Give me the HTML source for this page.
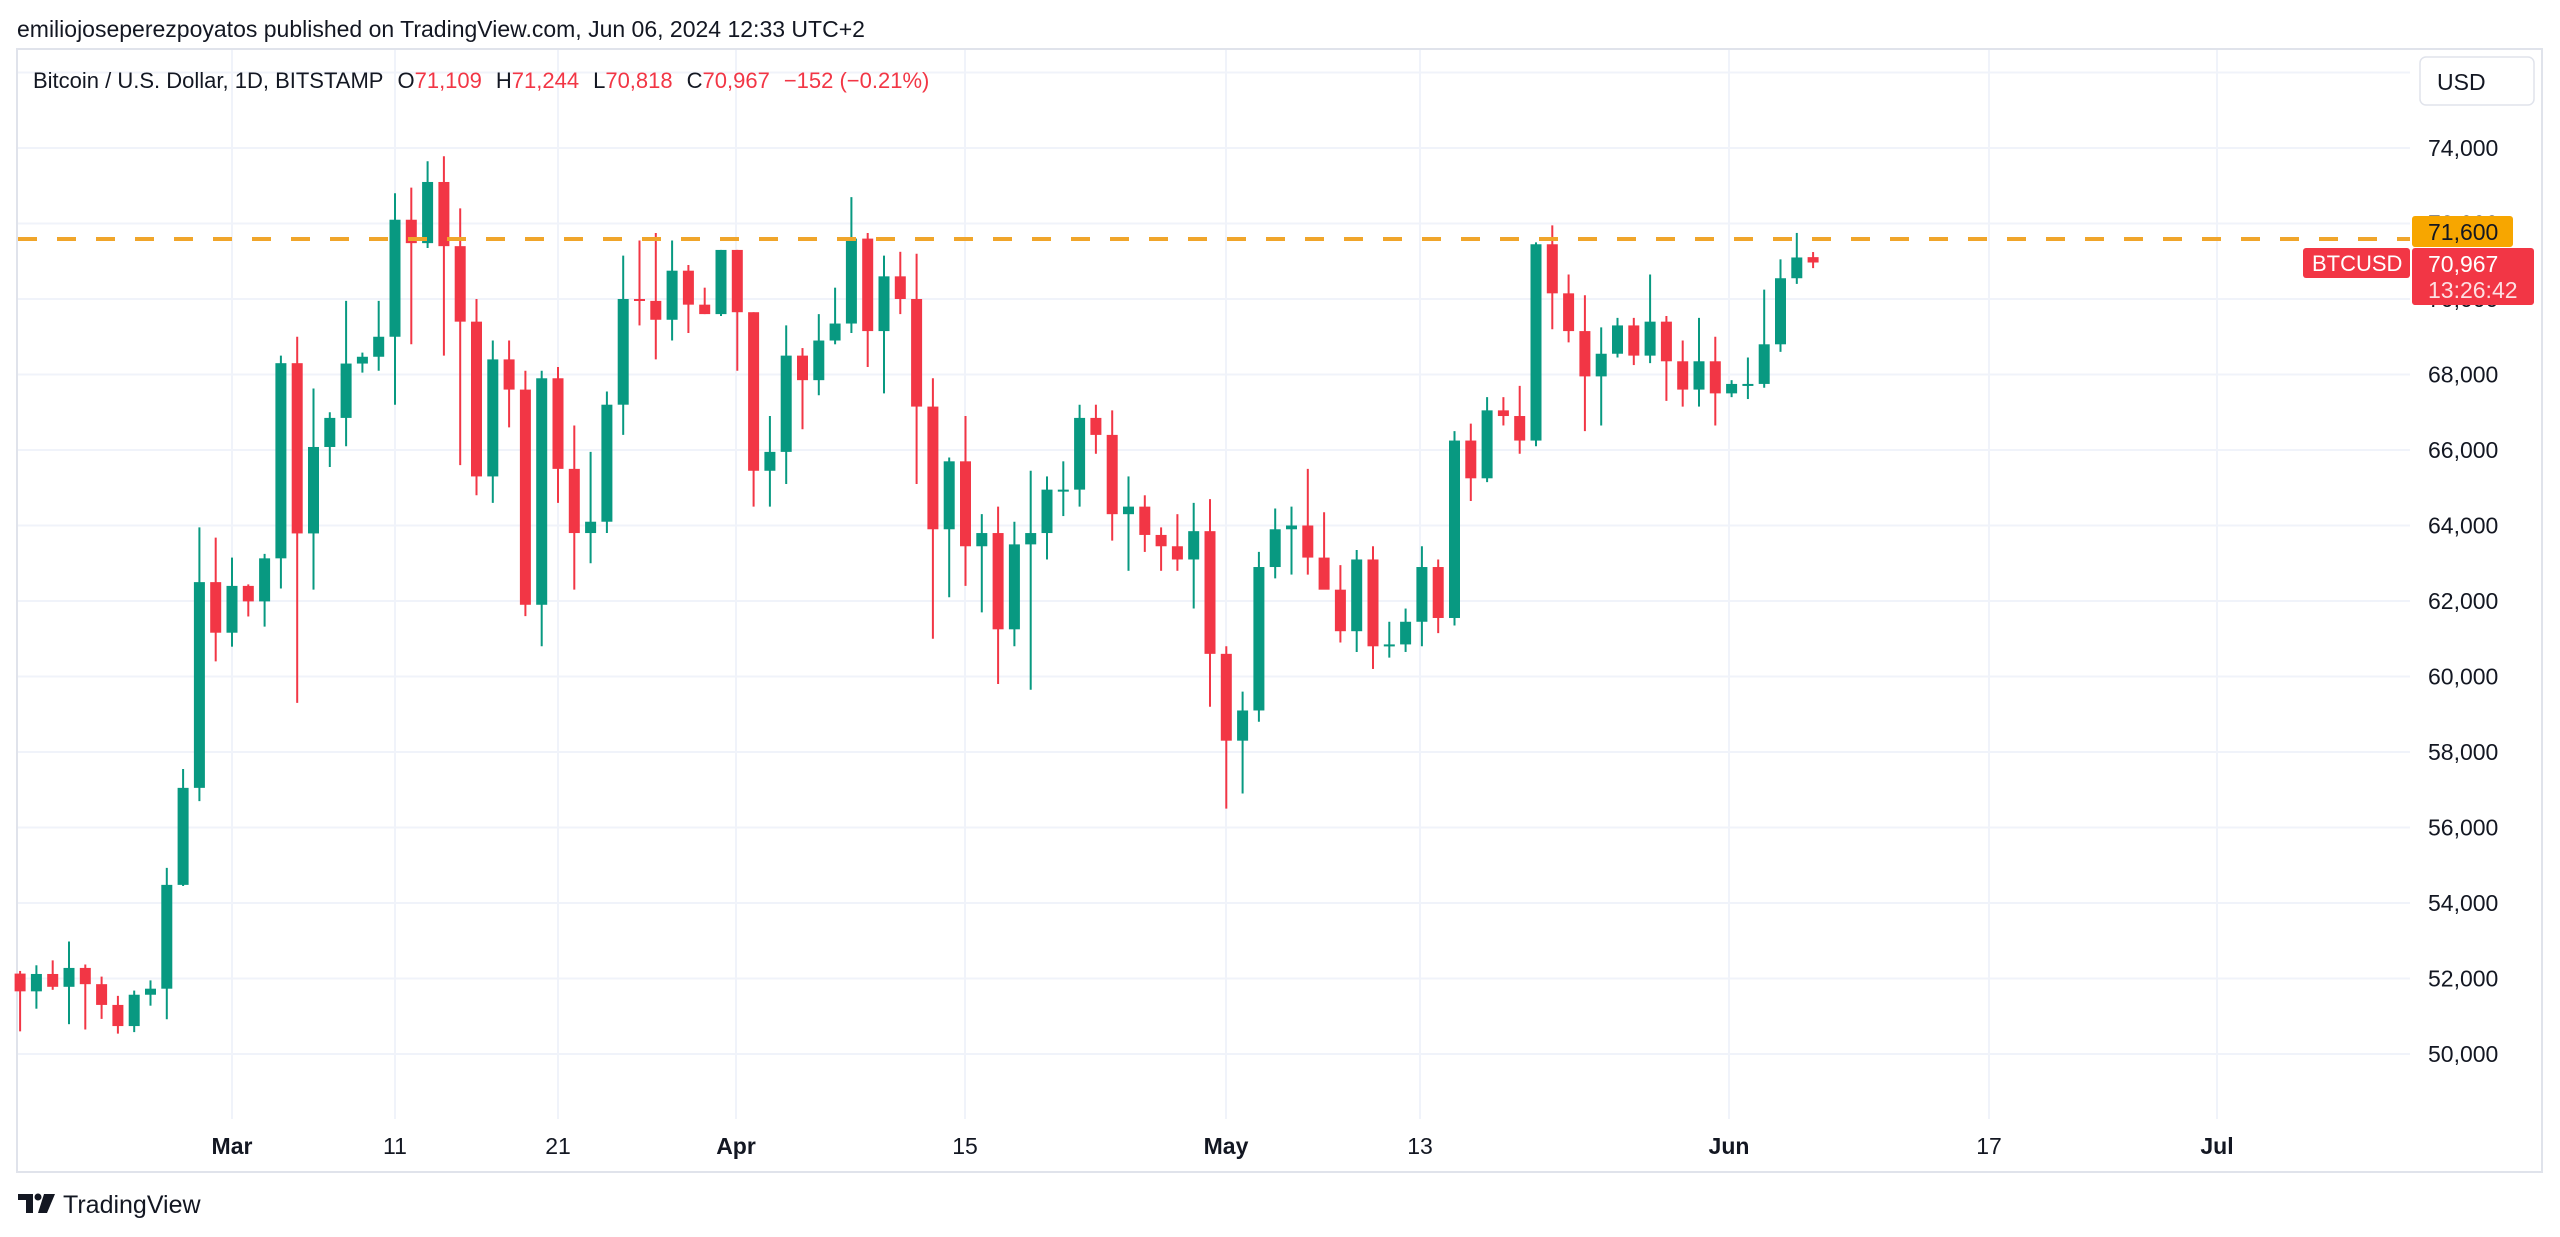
<!DOCTYPE html>
<html><head><meta charset="utf-8">
<style>
html,body{margin:0;padding:0;background:#fff;width:2560px;height:1237px;overflow:hidden;font-family:"Liberation Sans",Arial,sans-serif;}
</style></head>
<body>
<svg id="s" width="2560" height="1237" xmlns="http://www.w3.org/2000/svg" style="position:absolute;left:0;top:0;font-family:'Liberation Sans',Arial,sans-serif">
<text x="17" y="37" font-size="23" fill="#131722">emiliojoseperezpoyatos published on TradingView.com, Jun 06, 2024 12:33 UTC+2</text>
<rect x="17" y="49" width="2525" height="1123" fill="none" stroke="#e0e3eb" stroke-width="2"/>
<g id="grid" stroke="#f0f3fa" stroke-width="2"></g>
<g id="c"></g>
<line x1="18" y1="239" x2="2410" y2="239" stroke="#f0a52a" stroke-width="4" stroke-dasharray="19,20"/>
<text x="33" y="88" font-size="22" fill="#131722" style="white-space:pre">Bitcoin / U.S. Dollar, 1D, BITSTAMP<tspan dx="14">O</tspan><tspan fill="#f23645">71,109</tspan><tspan dx="14">H</tspan><tspan fill="#f23645">71,244</tspan><tspan dx="14">L</tspan><tspan fill="#f23645">70,818</tspan><tspan dx="14">C</tspan><tspan fill="#f23645">70,967</tspan><tspan dx="14" fill="#f23645">−152 (−0.21%)</tspan></text>
<rect x="2420" y="57" width="114" height="48" rx="6" fill="#fff" stroke="#e0e3eb" stroke-width="1.5"/>
<text x="2437" y="90" font-size="23" fill="#131722">USD</text>
<g id="ax" font-size="23" fill="#131722"></g>
<rect x="2412" y="216" width="101" height="31" rx="3" fill="#f7a600"/>
<text x="2428" y="240" font-size="23" fill="#131722">71,600</text>
<rect x="2412" y="248" width="122" height="57" rx="3" fill="#f23645"/>
<text x="2428" y="272" font-size="23" fill="#fff">70,967</text>
<text x="2428" y="298" font-size="23" fill="#fde0e3">13:26:42</text>
<rect x="2303" y="248" width="107" height="30" rx="3" fill="#f23645"/>
<text x="2312" y="271" font-size="22" fill="#fff">BTCUSD</text>
<g font-size="23" fill="#131722" text-anchor="middle" id="tx"></g>
<g fill="#131722">
<rect x="18" y="1194" width="14" height="6"/><rect x="26" y="1194" width="7" height="19"/>
<circle cx="38" cy="1197" r="3.5"/><polygon points="44,1194 55,1194 47,1213 38,1213"/>
</g>
<text x="63" y="1213" font-size="25" fill="#131722">TradingView</text>
</svg>
<script>
var d=[[52130,52200,50600,51660],[51660,52350,51200,52120],[52120,52480,51700,51780],[51780,52980,50790,52280],[52280,52370,50650,51850],[51850,52050,50930,51300],[51300,51540,50540,50740],[50740,51680,50580,51570],[51570,51950,51280,51730],[51730,54930,50920,54480],[54480,57550,54450,57050],[57050,63950,56700,62500],[62500,63680,60400,61160],
[61160,63150,60790,62400],[62400,62440,61590,61990],[61990,63250,61320,63130],[63130,68500,62330,68300],[68300,69000,59300,63790],[63790,67630,62300,66080],[66080,67000,65550,66850],[66850,69950,66100,68290],[68290,68580,68050,68470],[68470,69950,68100,69000],[69000,72800,67200,72100],[72100,72950,68800,71480],[71480,73650,71350,73100],[73100,73780,68500,71400],[71400,72400,65600,69400],[69400,70000,64800,65300],[65300,68900,64600,68400],[68400,68900,66600,67600],[67600,68100,61600,61900],[61900,68100,60800,67900],[67900,68200,64600,65500],[65500,66650,62300,63800],[63800,65950,63000,64100],[64100,67550,63800,67200],[67200,71150,66400,70000],[70000,71550,69300,69950],[69950,71750,68400,69450],[69450,71550,68900,70750],[70750,70900,69100,69850],[69850,70300,69600,69600],[69600,71300,69550,71300],
[71300,71300,68100,69650],[69650,69650,64500,65450],[65450,66900,64500,65950],[65950,69300,65100,68500],[68500,68700,66550,67850],[67850,69600,67450,68900],[68900,70300,68800,69350],[69350,72700,69100,71600],[71600,71750,68200,69150],[69150,71150,67500,70600],[70600,71250,69600,70000],[70000,71200,65100,67150],[67150,67900,61000,63900],[63900,65800,62100,65700],[65700,66900,62400,63450],[63450,64300,61700,63800],[63800,64500,59800,61250],[61250,64100,60800,63500],[63500,65450,59650,63800],[63800,65300,63100,64950],[64950,65700,64250,64950],[64950,67200,64500,66850],[66850,67200,65900,66400],[66400,67050,63600,64300],[64300,65300,62800,64500],[64500,64800,63300,63750],[63750,63950,62800,63450],[63450,64300,62800,63100],[63100,64600,61800,63850],[63850,64700,59200,60600],
[60600,60800,56500,58300],[58300,59600,56900,59100],[59100,63300,58800,62900],[62900,64450,62600,63900],[63900,64500,62700,64000],[64000,65500,62700,63150],[63150,64350,62350,62300],[62300,62950,60900,61200],[61200,63350,60650,63100],[63100,63450,60200,60800],[60800,61450,60500,60850],[60850,61800,60650,61450],[61450,63450,60800,62900],[62900,63100,61150,61550],[61550,66500,61350,66250],[66250,66700,64650,65250],[65250,67400,65150,67050],[67050,67400,66650,66900],[66900,67700,65900,66250],[66250,71500,66100,71450],[71450,71950,69200,70150],[70150,70650,68850,69150],[69150,70100,66500,67950],[67950,69250,66650,68550],[68550,69500,68450,69300],[69300,69500,68250,68500],[68500,70650,68300,69400],[69400,69550,67300,68350],[68350,68900,67150,67600],[67600,69500,67150,68350],[68350,69000,66650,67500],[67500,67850,67400,67750],[67750,68450,67350,67750],[67750,70250,67650,68800],[68800,71050,68600,70550],[70550,71750,70400,71100],[71109,71244,70818,70967]];
var NS="http://www.w3.org/2000/svg";
function Y(p){return 148+(74000-p)*0.03775;}
function el(t,a,par,txt){var e=document.createElementNS(NS,t);for(var k in a)e.setAttribute(k,a[k]);if(txt)e.textContent=txt;document.getElementById(par).appendChild(e);}
for(var p=50000;p<=76000;p+=2000){var y=Y(p);el('line',{x1:18,x2:2410,y1:y,y2:y},'grid');if(p<=74000)el('text',{x:2428,y:y+8},'ax',(p/1000)+',000');}
var ticks=[[232,'Mar',1],[395,'11'],[558,'21'],[736,'Apr',1],[965,'15'],[1226,'May',1],[1420,'13'],[1729,'Jun',1],[1989,'17'],[2217,'Jul',1]];
ticks.forEach(function(t){el('line',{x1:t[0],x2:t[0],y1:50,y2:1119},'grid');var a={x:t[0],y:1154};if(t[2])a['font-weight']='bold';el('text',a,'tx',t[1]);});
for(var i=0;i<d.length;i++){var o=d[i][0],h=d[i][1],l=d[i][2],c=d[i][3];var x=232+(i-13)*16.3;var col=c>=o?'#089981':'#f23645';
el('line',{x1:x,x2:x,y1:Y(h),y2:Y(l),stroke:col,'stroke-width':2},'c');
var t=Y(Math.max(o,c)),b=Y(Math.min(o,c));el('rect',{x:x-5.5,y:t,width:11,height:Math.max(2,b-t),fill:col},'c');}
</script>
</body></html>
